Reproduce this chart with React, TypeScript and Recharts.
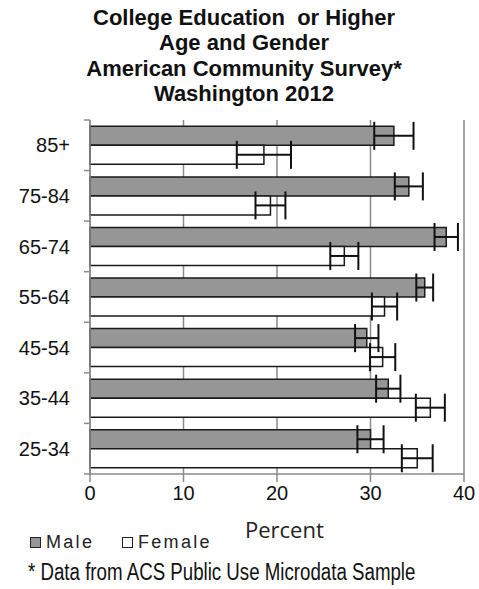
import React from "react";
import { Bar, BarChart, CartesianGrid, ErrorBar, XAxis, YAxis } from "recharts";

const ageGroups = ["85+", "75-84", "65-74", "55-64", "45-54", "35-44", "25-34"];
const malePct = [32.5, 34.1, 38.1, 35.8, 29.6, 31.9, 30.0];
const maleErr = [2.1, 1.5, 1.25, 0.9, 1.25, 1.3, 1.4];
const femalePct = [18.6, 19.3, 27.2, 31.5, 31.3, 36.4, 35.0];
const femaleErr = [2.9, 1.6, 1.5, 1.35, 1.35, 1.55, 1.65];
const xTicks = [0, 10, 20, 30, 40];
const titleLines = [
  "College Education  or Higher",
  "Age and Gender",
  "American Community Survey*",
  "Washington 2012",
];

const data = ageGroups.map((age, i) => ({
  age,
  male: malePct[i],
  maleErr: maleErr[i],
  female: femalePct[i],
  femaleErr: femaleErr[i],
}));

const W = 479;
const H = 589;
const M = { top: 120, right: 15, bottom: 85, left: 0 };
const Y_AXIS_W = 90;
const X_AXIS_H = 30;
const plotH = H - M.top - M.bottom - X_AXIS_H;
const band = plotH / ageGroups.length;

const font = "'Liberation Sans', Arial, sans-serif";
const axisGray = "#8a8a8a";

function AgeTick(props: any) {
  const { x, y, payload, index } = props;
  const top = y - band / 2;
  return (
    <g>
      <line x1={x - 6} x2={x} y1={top} y2={top} stroke={axisGray} strokeWidth={1.5} />
      {index === ageGroups.length - 1 && (
        <line x1={x - 6} x2={x} y1={top + band} y2={top + band} stroke={axisGray} strokeWidth={1.5} />
      )}
      <text x={x - 20} y={y} dy="0.36em" textAnchor="end" fontSize={20} fontFamily={font} fill="#111">
        {payload.value}
      </text>
    </g>
  );
}

function LegendItem({ left, fill, label }: { left: number; fill: string; label: string }) {
  return (
    <div style={{ position: "absolute", left, top: 532, display: "flex", alignItems: "center", fontSize: 18, lineHeight: "20px", color: "#222", letterSpacing: 2.3 }}>
      <span style={{ display: "inline-block", width: 9, height: 9, background: fill, border: "1.5px solid #222", marginRight: 5 }} />
      <span>{label}</span>
    </div>
  );
}

export default function App() {
  return (
    <div style={{ position: "absolute", left: 0, top: 0, width: W, height: H, background: "#fff", fontFamily: font, overflow: "hidden" }}>
      {titleLines.map((t, i) => (
        <div
          key={t}
          style={{
            position: "absolute",
            left: 0,
            width: 488,
            top: 5 + i * 25.3,
            textAlign: "center",
            fontWeight: "bold",
            fontSize: 22,
            lineHeight: "26px",
            color: "#111",
            whiteSpace: "pre",
          }}
        >
          {t}
        </div>
      ))}

      <BarChart
        width={W}
        height={H}
        data={data}
        layout="vertical"
        margin={M}
        barCategoryGap="12.5%"
        barGap={0}
      >
        <CartesianGrid horizontal={false} stroke={axisGray} strokeWidth={1.5} />
        <XAxis
          type="number"
          domain={[0, 40]}
          ticks={xTicks}
          height={X_AXIS_H}
          tickSize={8}
          tickMargin={4}
          stroke={axisGray}
          strokeWidth={1.5}
          tick={{ fontSize: 20, fontFamily: font, fill: "#111" }}
        />
        <YAxis
          type="category"
          dataKey="age"
          width={Y_AXIS_W}
          tickSize={0}
          tickMargin={0}
          stroke={axisGray}
          strokeWidth={1.5}
          tick={<AgeTick />}
          interval={0}
        />
        <Bar dataKey="male" fill="#969696" stroke="#1a1a1a" strokeWidth={1.5} isAnimationActive={false}>
          <ErrorBar dataKey="maleErr" direction="x" width={14} stroke="#111" strokeWidth={2} />
        </Bar>
        <Bar dataKey="female" fill="#ffffff" stroke="#1a1a1a" strokeWidth={1.5} isAnimationActive={false}>
          <ErrorBar dataKey="femaleErr" direction="x" width={14} stroke="#111" strokeWidth={2} />
        </Bar>
      </BarChart>

      <div style={{ position: "absolute", left: 245, top: 515, fontSize: 22, lineHeight: "28px", fontFamily: "'Open Sans', sans-serif", color: "#222" }}>
        Percent
      </div>

      <LegendItem left={30} fill="#969696" label="Male" />
      <LegendItem left={122} fill="#ffffff" label="Female" />

      <div
        style={{
          position: "absolute",
          left: 28,
          top: 565,
          fontSize: 18.7,
          lineHeight: "20px",
          color: "#111",
          whiteSpace: "pre",
          transform: "scaleY(1.25)",
          transformOrigin: "left bottom",
        }}
      >
        {"* Data from ACS Public Use Microdata Sample"}
      </div>
    </div>
  );
}
